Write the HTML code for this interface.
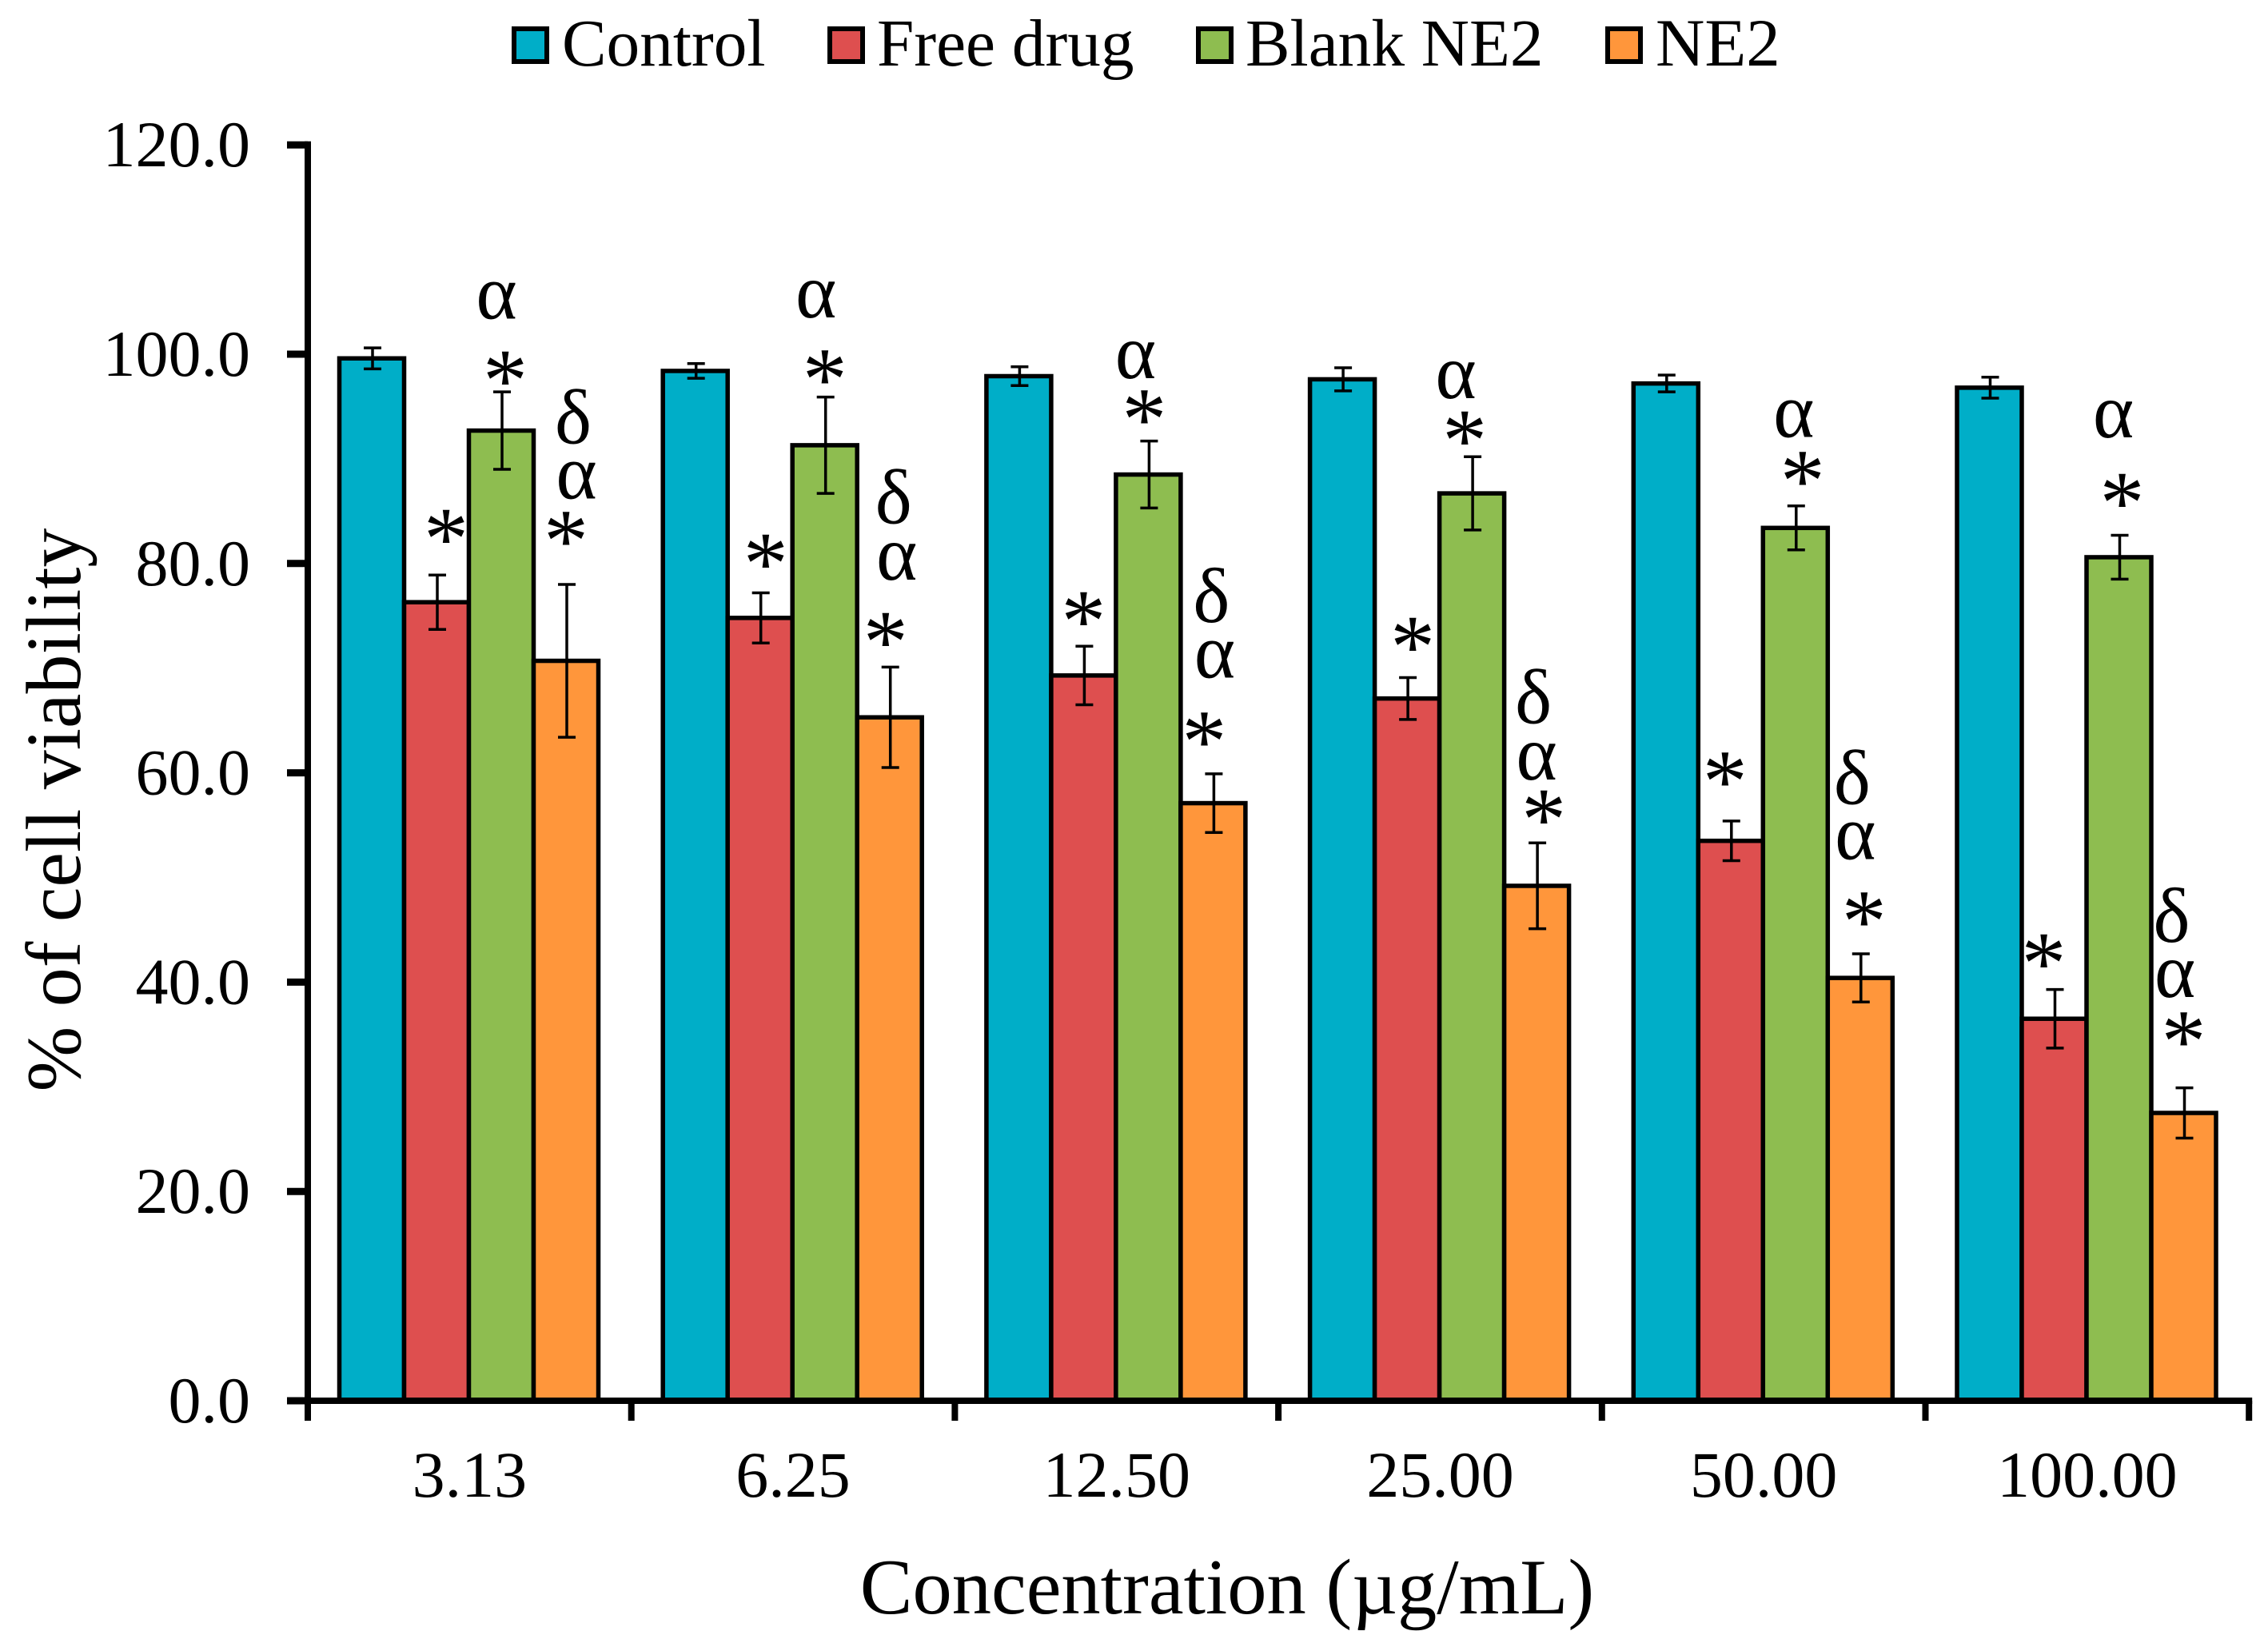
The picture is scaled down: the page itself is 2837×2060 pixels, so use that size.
<!DOCTYPE html>
<html lang="en">
<head>
<meta charset="utf-8">
<title>Cell viability bar chart</title>
<style>
html,body{margin:0;padding:0;background:#fff;width:2837px;height:2060px;overflow:hidden}
svg{display:block}
text{font-family:"Liberation Serif","DejaVu Serif",serif;fill:#000}
</style>
</head>
<body>
<svg id="chart" xmlns="http://www.w3.org/2000/svg" width="2837" height="2060" viewBox="0 0 2837 2060">
  <rect x="0" y="0" width="2837" height="2060" fill="#ffffff"/>
  <g id="bars"></g>
  <g id="errors"></g>
  <g id="annotations"></g>
  <g id="axes"></g>
  <text transform="translate(100 1013) rotate(-90)" text-anchor="middle" font-size="98">% of cell viability</text>
  <text x="1535" y="2018" text-anchor="middle" font-size="98.5">Concentration (µg/mL)</text>
  <g>
    <g>
      <rect x="643" y="36" width="41" height="41" fill="#00aec8" stroke="#000" stroke-width="6"/>
      <text x="703" y="82" font-size="83.3">Control</text>
    </g>
    <g>
      <rect x="1038" y="36" width="41" height="41" fill="#de4f4f" stroke="#000" stroke-width="6"/>
      <text x="1097" y="82" font-size="83.3">Free drug</text>
    </g>
    <g>
      <rect x="1499" y="36" width="41" height="41" fill="#8ebd50" stroke="#000" stroke-width="6"/>
      <text x="1558" y="82" font-size="83.3">Blank NE2</text>
    </g>
    <g>
      <rect x="2011" y="36" width="41" height="41" fill="#ff963b" stroke="#000" stroke-width="6"/>
      <text x="2071" y="82" font-size="85">NE2</text>
    </g>
  </g>
</svg>
<script>
const categories = ['3.13', '6.25', '12.50', '25.00', '50.00', '100.00'];
const yTickLabels = ['0.0', '20.0', '40.0', '60.0', '80.0', '100.0', '120.0'];
const yTickValues = [0, 20, 40, 60, 80, 100, 120];
const seriesNames = ['control', 'free-drug', 'blank-ne2', 'ne2'];

const controlValues = [99.6, 98.4, 97.9, 97.6, 97.2, 96.8];
const freeDrugValues = [76.3, 74.8, 69.3, 67.1, 53.5, 36.5];
const blankNe2Values = [92.7, 91.3, 88.5, 86.7, 83.4, 80.6];
const ne2Values = [70.7, 65.3, 57.1, 49.2, 40.4, 27.5];

const controlErrors = [1.0, 0.7, 0.9, 1.1, 0.8, 1.0];
const freeDrugErrors = [2.6, 2.4, 2.8, 2.0, 1.9, 2.8];
const blankNe2Errors = [3.7, 4.6, 3.2, 3.5, 2.1, 2.1];
const ne2Errors = [7.3, 4.8, 2.8, 4.1, 2.3, 2.4];

const seriesValues = [controlValues, freeDrugValues, blankNe2Values, ne2Values];
const seriesErrors = [controlErrors, freeDrugErrors, blankNe2Errors, ne2Errors];
const seriesColors = ['#00aec8', '#de4f4f', '#8ebd50', '#ff963b'];

/* annotation placement, relative to each bar's error-bar top */
const freeStarDx = [12, 7, 0, 7, -7, -13];
const freeStarLift = [56, 47, 42, 49, 60, 43];
const blankStarDx = [5, 0, -5, -9, 9, 4];
const blankStarLift = [25, 33, 38, 31, 42, 51];
const blankAlphaLift = [89, 89, 63, 65, 67, 94];
const ne2StarDx = [0, -5, -11, 9, 5, 0];
const ne2StarLift = [65, 42, 51, 40, 51, 69];
const ne2AlphaDx = [13, 14, 13, -9, -11, -11];
const ne2AlphaLift = [65, 90, 92, 62, 90, 67];
const ne2DeltaLift = [80, 81, 80, 81, 80, 80];

const NS = 'http://www.w3.org/2000/svg';
const Y_ZERO = 1752;
const Y_UNIT = 13.09;
const X_ORIGIN = 385;
const GROUP_STEP = 404.7;
const BAR_INSET = 39.5;
const BAR_WIDTH = 81;
const CAP = 11;

function yScale(v) { return Y_ZERO - v * Y_UNIT; }
function groupX(g) { return X_ORIGIN + g * GROUP_STEP; }
function barLeft(g, s) { return groupX(g) + BAR_INSET + s * BAR_WIDTH; }
function barCenter(g, s) { return barLeft(g, s) + BAR_WIDTH / 2; }

function line(parent, x1, y1, x2, y2, width) {
  const el = document.createElementNS(NS, 'line');
  el.setAttribute('x1', x1);
  el.setAttribute('y1', y1);
  el.setAttribute('x2', x2);
  el.setAttribute('y2', y2);
  el.setAttribute('stroke', '#000');
  el.setAttribute('stroke-width', width);
  parent.appendChild(el);
  return el;
}
function label(parent, str, x, y, size, anchor) {
  const el = document.createElementNS(NS, 'text');
  el.setAttribute('x', x);
  el.setAttribute('y', y);
  el.setAttribute('font-size', size);
  el.setAttribute('text-anchor', anchor);
  el.textContent = str;
  parent.appendChild(el);
  return el;
}

const barsLayer = document.getElementById('bars');
const errorsLayer = document.getElementById('errors');
const annLayer = document.getElementById('annotations');
const axesLayer = document.getElementById('axes');

seriesValues.forEach(function (vals, s) {
  vals.forEach(function (v, g) {
    const r = document.createElementNS(NS, 'rect');
    r.setAttribute('x', barLeft(g, s));
    r.setAttribute('y', yScale(v));
    r.setAttribute('width', BAR_WIDTH);
    r.setAttribute('height', Y_ZERO - yScale(v));
    r.setAttribute('fill', seriesColors[s]);
    r.setAttribute('stroke', '#000');
    r.setAttribute('stroke-width', 5.5);
    
    
    barsLayer.appendChild(r);

    const e = seriesErrors[s][g];
    const cx = barCenter(g, s) + 1;
    const eg = document.createElementNS(NS, 'g');
    
    
    errorsLayer.appendChild(eg);
    line(eg, cx, yScale(v + e), cx, yScale(v - e), 3.5);
    line(eg, cx - CAP, yScale(v + e), cx + CAP, yScale(v + e), 3.5);
    line(eg, cx - CAP, yScale(v - e), cx + CAP, yScale(v - e), 3.5);
  });
});

const STAR_SIZE = 112;
const GREEK_SIZE = 98;
function star(cx, cy, key) {
  const t = label(annLayer, '*', cx, cy + 0.43 * STAR_SIZE, STAR_SIZE, 'middle');
  
  
}
function alpha(cx, cy, key) {
  const t = label(annLayer, 'α', cx, cy + 0.23 * GREEK_SIZE, GREEK_SIZE, 'middle');
  
  
}
function delta(cx, cy, key) {
  const t = label(annLayer, 'δ', cx, cy + 0.34 * GREEK_SIZE, GREEK_SIZE, 'middle');
  
  
}

categories.forEach(function (cat, g) {
  const freeTop = yScale(freeDrugValues[g] + freeDrugErrors[g]);
  star(barCenter(g, 1) + freeStarDx[g], freeTop - freeStarLift[g], 'free-drug-' + cat);

  const blankTop = yScale(blankNe2Values[g] + blankNe2Errors[g]);
  const bsx = barCenter(g, 2) + blankStarDx[g];
  const bsy = blankTop - blankStarLift[g];
  star(bsx, bsy, 'blank-ne2-' + cat);
  alpha(bsx - 11, bsy - blankAlphaLift[g], 'blank-ne2-' + cat);

  const neTop = yScale(ne2Values[g] + ne2Errors[g]);
  const nsx = barCenter(g, 3) + ne2StarDx[g];
  const nsy = neTop - ne2StarLift[g];
  const nax = nsx + ne2AlphaDx[g];
  const nay = nsy - ne2AlphaLift[g];
  star(nsx, nsy, 'ne2-' + cat);
  alpha(nax, nay, 'ne2-' + cat);
  delta(nax - 4, nay - ne2DeltaLift[g], 'ne2-' + cat);
});

const yAxis = line(axesLayer, X_ORIGIN, yScale(120) - 4.5, X_ORIGIN, Y_ZERO + 4, 8);


const xAxis = line(axesLayer, 359, Y_ZERO, groupX(categories.length) + 4, Y_ZERO, 8);



yTickValues.forEach(function (v, i) {
  const t = line(axesLayer, 359, yScale(v), X_ORIGIN, yScale(v), 9);
  
  
  const l = label(axesLayer, yTickLabels[i], 313, yScale(v) + 27, 82, 'end');
  
  
});

for (let g = 0; g <= categories.length; g++) {
  const t = line(axesLayer, groupX(g), Y_ZERO, groupX(g), 1777, 8);
  
  
}
categories.forEach(function (cat, g) {
  const l = label(axesLayer, cat, groupX(g) + GROUP_STEP / 2, 1872, 82, 'middle');
  
  
});
</script>
</body>
</html>
